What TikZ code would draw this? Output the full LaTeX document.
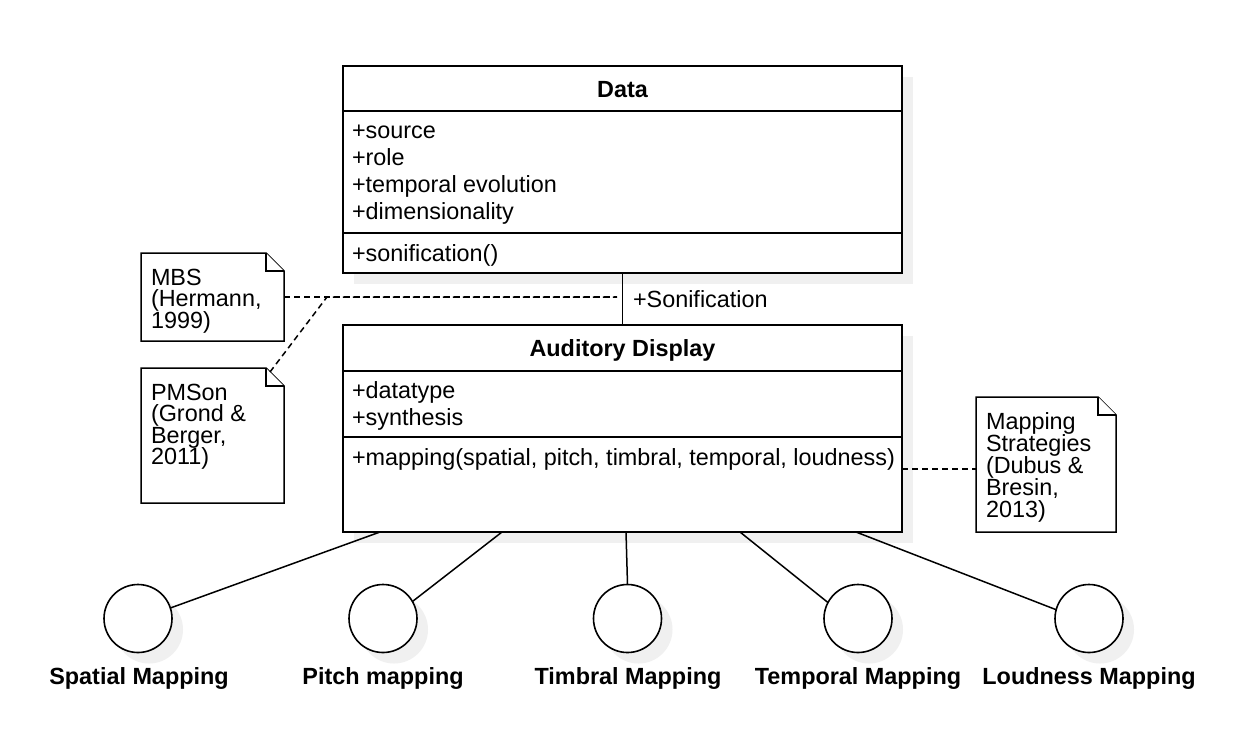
\documentclass[tikz,border=0pt]{standalone}
\usepackage{fontspec}
\setmainfont{Liberation Sans}
\newcommand\drawnote[1]{%
  \draw[notebox] (#1.north west) -- ([xshift=-18pt]#1.north east) -- ([yshift=-18pt]#1.north east) -- (#1.south east) -- (#1.south west) -- cycle;
  \draw[notebox] ([xshift=-18pt]#1.north east) -- ([xshift=-18pt,yshift=-18pt]#1.north east) -- ([yshift=-18pt]#1.north east);}
\begin{document}
\begin{tikzpicture}[x=1pt,y=-1pt,
  every node/.style={font=\fontsize{23.4}{27}\selectfont, inner sep=0pt, outer sep=0pt},
  classbox/.style={draw, line width=1.6pt, fill=white, anchor=north west},
  notebox/.style={draw, line width=1.5pt, fill=white, line join=miter},
  noteframe/.style={draw=none, anchor=north west},
  shadowfill/.style={fill=black!6, draw=none},
  txt/.style={anchor=base west},
  ttl/.style={anchor=base, font=\fontsize{23.4}{27}\selectfont\bfseries},
  conn/.style={line width=1.5pt},
  dashline/.style={line width=1.5pt, dash pattern=on 6pt off 4pt},
  circ/.style={circle, draw, line width=1.6pt, fill=white, minimum size=68pt},
]
\useasboundingbox (0,0) rectangle (1234,740);
\fill[white] (0,0) rectangle (1234,740);

% ---- shadows
\fill[shadowfill] (354,77) rectangle (913,284);
\fill[shadowfill] (354,336) rectangle (913,543);
\foreach \cx in {138,383,627.5,858,1089}{\fill[shadowfill] (\cx+11,629.5) circle (34pt);}

% ---- Data class
\node[classbox, minimum width=559pt, minimum height=207pt] (data) at (343,66) {};
\draw[line width=1.6pt] (343,111) -- (902,111);
\draw[line width=1.6pt] (343,233) -- (902,233);
\node[ttl] (datat) at (622.5,97) {Data};
\node[txt] (d1) at (352,138) {+source};
\node[txt] (d2) at (352,165) {+role};
\node[txt] (d3) at (352,192) {+temporal evolution};
\node[txt] (d4) at (352,219) {+dimensionality};
\node[txt] (d5) at (352,261) {+sonification()};

% ---- Auditory Display class
\node[classbox, minimum width=559pt, minimum height=207pt] (aud) at (343,325) {};
\draw[line width=1.6pt] (343,371) -- (902,371);
\draw[line width=1.6pt] (343,437) -- (902,437);
\node[ttl] (audt) at (622.5,356) {Auditory Display};
\node[txt] (a1) at (352,398) {+datatype};
\node[txt] (a2) at (352,425) {+synthesis};
\node[txt] (a3) at (352,465) {+mapping(spatial, pitch, timbral, temporal, loudness)};

% ---- association
\draw[conn] (data.south) -- (aud.north);
\node[txt] (son) at (633,307) {+Sonification};
\coordinate (assoc) at (617,297);

% ---- notes
\node[noteframe, minimum width=143pt, minimum height=88pt] (mbs) at (141,253) {};
\drawnote{mbs}
\node[txt] (m1) at (151,285) {MBS};
\node[txt] (m2) at (151,306.5) {(Hermann,};
\node[txt] (m3) at (151,328) {1999)};

\node[noteframe, minimum width=143pt, minimum height=135pt] (pms) at (141,368) {};
\drawnote{pms}
\node[txt] (p1) at (151,400) {PMSon};
\node[txt] (p2) at (151,421.5) {(Grond \&};
\node[txt] (p3) at (151,443) {Berger,};
\node[txt] (p4) at (151,464.5) {2011)};

\node[noteframe, minimum width=140pt, minimum height=135pt] (ms) at (976,397) {};
\drawnote{ms}
\node[txt] (s1) at (986,429) {Mapping};
\node[txt] (s2) at (986,451) {Strategies};
\node[txt] (s3) at (986,473) {(Dubus \&};
\node[txt] (s4) at (986,495) {Bresin,};
\node[txt] (s5) at (986,517) {2013)};

% ---- dashed note links
\draw[dashline] (mbs.east) -- (assoc);
\coordinate (pj) at (327,297);
\draw[dashline] ([xshift=-14pt,yshift=-4pt]pms.north east) -- (pj) -- (assoc);
\coordinate (maprow) at (902,469);
\draw[dashline] (maprow) -- (ms.west |- maprow);

% ---- mapping circles
\node[circ] (c1) at (138,618.5) {};
\node[circ] (c2) at (383,618.5) {};
\node[circ] (c3) at (627.5,618.5) {};
\node[circ] (c4) at (858,618.5) {};
\node[circ] (c5) at (1089,618.5) {};
\node[ttl] (l1) at (139,684) {Spatial Mapping};
\node[ttl] (l2) at (383,684) {Pitch mapping};
\node[ttl] (l3) at (628,684) {Timbral Mapping};
\node[ttl] (l4) at (858,684) {Temporal Mapping};
\node[ttl] (l5) at (1089,684) {Loudness Mapping};

\coordinate (b1) at (380,532);
\coordinate (b2) at (502,532);
\coordinate (b3) at (626,532);
\coordinate (b4) at (740,532);
\coordinate (b5) at (856,532);
\draw[conn] (b1) -- (c1.18);
\draw[conn] (b2) -- (c2.30);
\draw[conn] (b3) -- (c3.north);
\draw[conn] (b4) -- (c4.152);
\draw[conn] (b5) -- (c5.165);
\end{tikzpicture}
\end{document}
